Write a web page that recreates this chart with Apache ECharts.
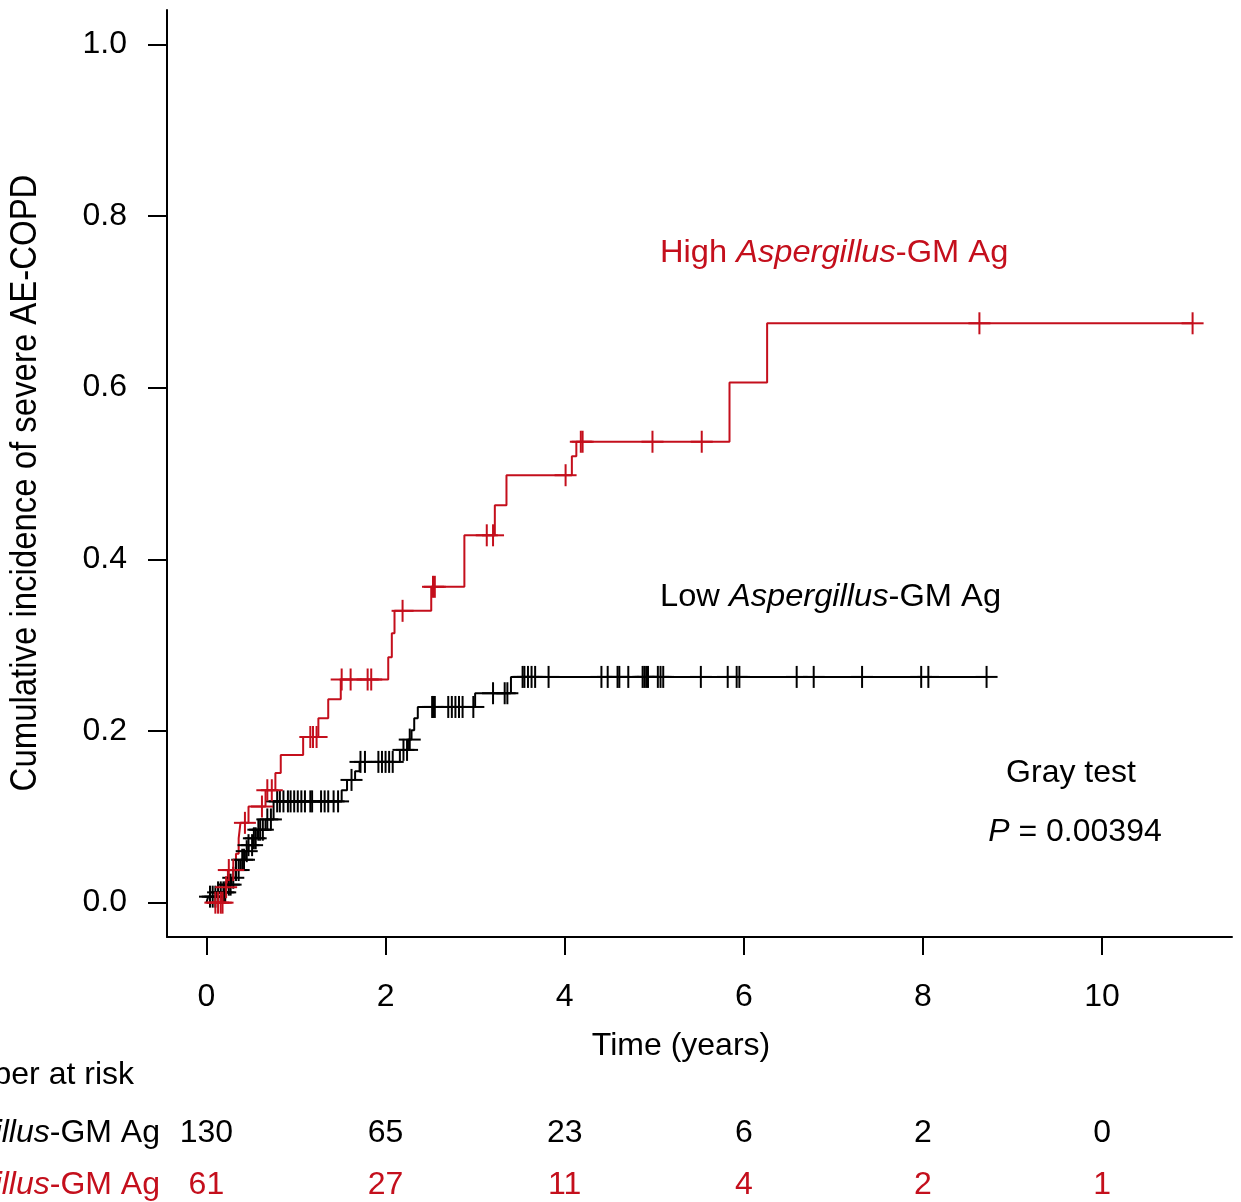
<!DOCTYPE html>
<html><head><meta charset="utf-8">
<script src="https://cdn.jsdelivr.net/npm/echarts@6/dist/echarts.min.js"></script>
<style>html,body{margin:0;padding:0;background:#fff}#c{width:1241px;height:1202px}</style>
</head><body><div id="c"></div>
<script>
// ---- data ----
const xTicks = [0, 2, 4, 6, 8, 10];
const yTicks = [0, 0.2, 0.4, 0.6, 0.8, 1.0];

// Low Aspergillus-GM Ag (black) step curve
const lowT = [0, 0.02, 0.12, 0.22, 0.28, 0.33, 0.38, 0.43, 0.47, 0.52, 0.57, 0.66, 0.75, 1.51, 1.57, 1.66, 1.71, 2.16, 2.25, 2.29, 2.32, 2.36, 3.0, 3.4, 8.71];
const lowV = [0, 0.007, 0.012, 0.021, 0.029, 0.038, 0.05, 0.06, 0.067, 0.075, 0.085, 0.097, 0.118, 0.131, 0.143, 0.153, 0.164, 0.178, 0.19, 0.201, 0.215, 0.228, 0.244, 0.263, 0.263];
const lowCensor = [0.04, 0.07, 0.1, 0.13, 0.16, 0.19, 0.21, 0.25, 0.27, 0.3, 0.33, 0.36, 0.4, 0.42, 0.45, 0.47, 0.51, 0.53, 0.55, 0.58, 0.6, 0.63, 0.68, 0.72, 0.79, 0.82, 0.86, 0.91, 0.94, 0.98, 1.02, 1.06, 1.1, 1.16, 1.18, 1.28, 1.32, 1.36, 1.42, 1.47, 1.62, 1.72, 1.77, 1.92, 1.96, 2.0, 2.04, 2.08, 2.2, 2.24, 2.27, 2.52, 2.53, 2.55, 2.7, 2.74, 2.78, 2.82, 2.86, 2.98, 3.2, 3.33, 3.36, 3.53, 3.55, 3.59, 3.63, 3.67, 3.82, 4.41, 4.48, 4.59, 4.61, 4.71, 4.87, 4.89, 4.91, 4.93, 5.04, 5.07, 5.1, 5.52, 5.82, 5.92, 5.95, 6.59, 6.78, 7.32, 7.98, 8.06, 8.71];

// High Aspergillus-GM Ag (red) step curve
const highT = [0, 0.2, 0.24, 0.33, 0.36, 0.38, 0.47, 0.66, 0.77, 0.83, 1.08, 1.25, 1.36, 1.5, 2.03, 2.07, 2.1, 2.51, 2.88, 3.22, 3.35, 4.08, 4.13, 5.84, 6.26, 11.01];
const highV = [0, 0.018, 0.038, 0.057, 0.075, 0.093, 0.112, 0.131, 0.151, 0.172, 0.193, 0.215, 0.237, 0.26, 0.286, 0.314, 0.34, 0.368, 0.428, 0.463, 0.498, 0.52, 0.537, 0.606, 0.675, 0.675];
const highCensor = [0.1, 0.13, 0.16, 0.18, 0.22, 0.25, 0.3, 0.43, 0.62, 0.68, 0.73, 1.16, 1.19, 1.23, 1.51, 1.61, 1.8, 1.84, 2.19, 2.53, 2.55, 3.13, 3.2, 4.01, 4.18, 4.2, 4.98, 5.53, 8.63, 11.01];

// Number at risk
const riskTimes = [0, 2, 4, 6, 8, 10];
const lowRisk = [130, 65, 23, 6, 2, 0];
const highRisk = [61, 27, 11, 4, 2, 1];

// ---- chart ----
const RED = '#c40f1c';
const F = 'Liberation Sans, Arial, Helvetica, sans-serif';
const FS = 32;

function stepAt(T, V, t) { let v = V[0]; for (let i = 0; i < T.length; i++) { if (T[i] <= t) v = V[i]; } return v; }
function pairs(T, V) { return T.map((t, i) => [t, V[i]]); }
function censorSeries(times, T, V, color) {
  return {
    type: 'custom', clip: false, z: 3, silent: true,
    encode: { x: 0, y: 1 },
    data: times.map(t => [t, stepAt(T, V, t)]),
    renderItem(params, api) {
      const p = api.coord([api.value(0), api.value(1)]);
      const h = 11;
      return { type: 'group', children: [
        { type: 'line', shape: { x1: p[0], y1: p[1] - h, x2: p[0], y2: p[1] + h }, style: { stroke: color, lineWidth: 2 } },
        { type: 'line', shape: { x1: p[0] - h, y1: p[1], x2: p[0] + h, y2: p[1] }, style: { stroke: color, lineWidth: 2 } }
      ] };
    }
  };
}

const chart = echarts.init(document.getElementById('c'), null, { renderer: 'canvas' });
chart.setOption({
  animation: false,
  backgroundColor: '#fff',
  grid: { left: 167, right: 9, top: 10, bottom: 265, containLabel: false, outerBoundsMode: 'none' },
  xAxis: {
    type: 'value', min: -0.44, max: 11.45,
    splitLine: { show: false },
    axisLine: { show: true, onZero: false, lineStyle: { color: '#000', width: 2 } },
    axisTick: { show: true, customValues: xTicks, length: 18, lineStyle: { color: '#000', width: 2 } },
    axisLabel: { show: true, customValues: xTicks, margin: 44, fontSize: FS, fontFamily: F, color: '#000', formatter: v => String(v) }
  },
  yAxis: {
    type: 'value', min: -0.04, max: 1.04,
    splitLine: { show: false },
    axisLine: { show: true, onZero: false, lineStyle: { color: '#000', width: 2 } },
    axisTick: { show: true, customValues: yTicks, length: 19, lineStyle: { color: '#000', width: 2 } },
    axisLabel: { show: true, customValues: yTicks, margin: 40, fontSize: FS, fontFamily: F, color: '#000', formatter: v => v.toFixed(1) }
  },
  series: [
    { type: 'line', step: 'end', data: pairs(lowT, lowV), showSymbol: false, symbol: 'none', lineStyle: { color: '#000', width: 2 }, z: 2 },
    { type: 'line', step: 'end', data: pairs(highT, highV), showSymbol: false, symbol: 'none', lineStyle: { color: RED, width: 2 }, z: 2 },
    censorSeries(lowCensor, lowT, lowV, '#000'),
    censorSeries(highCensor, highT, highV, RED)
  ]
});

function rich(color) {
  return {
    n: { fontSize: FS, fontFamily: F, fill: color },
    i: { fontSize: FS, fontFamily: F, fill: color, fontStyle: 'italic' }
  };
}
const graphics = [
  { type: 'text', x: 26, y: 483, rotation: Math.PI / 2, scaleX: 0.89,
    style: { text: 'Cumulative incidence of severe AE-COPD', fontSize: 37, fontFamily: F, fill: '#000', align: 'center', verticalAlign: 'middle' } },
  { type: 'text', x: 681, y: 1046,
    style: { text: 'Time (years)', fontSize: FS, fontFamily: F, fill: '#000', align: 'center', verticalAlign: 'middle' } },
  { type: 'text', x: 660, y: 253, scaleX: 1.02,
    style: { text: '{n|High }{i|Aspergillus}{n|-GM Ag}', rich: rich(RED), align: 'left', verticalAlign: 'middle' } },
  { type: 'text', x: 660, y: 597, scaleX: 1.02,
    style: { text: '{n|Low }{i|Aspergillus}{n|-GM Ag}', rich: rich('#000'), align: 'left', verticalAlign: 'middle' } },
  { type: 'text', x: 1071, y: 773,
    style: { text: 'Gray test', fontSize: FS, fontFamily: F, fill: '#000', align: 'center', verticalAlign: 'middle' } },
  { type: 'text', x: 1075, y: 832,
    style: { text: '{i|P}{n| = 0.00394}', rich: rich('#000'), align: 'center', verticalAlign: 'middle' } },
  { type: 'text', x: 134, y: 1075,
    style: { text: 'Number at risk', fontSize: FS, fontFamily: F, fill: '#000', align: 'right', verticalAlign: 'middle' } },
  { type: 'text', x: 160, y: 1133,
    style: { text: '{n|Low }{i|Aspergillus}{n|-GM Ag}', rich: rich('#000'), align: 'right', verticalAlign: 'middle' } },
  { type: 'text', x: 160, y: 1185,
    style: { text: '{n|High }{i|Aspergillus}{n|-GM Ag}', rich: rich(RED), align: 'right', verticalAlign: 'middle' } }
];
riskTimes.forEach((t, k) => {
  const px = chart.convertToPixel({ xAxisIndex: 0 }, t);
  graphics.push({ type: 'text', x: px, y: 1133,
    style: { text: String(lowRisk[k]), fontSize: FS, fontFamily: F, fill: '#000', align: 'center', verticalAlign: 'middle' } });
  graphics.push({ type: 'text', x: px, y: 1185,
    style: { text: String(highRisk[k]), fontSize: FS, fontFamily: F, fill: RED, align: 'center', verticalAlign: 'middle' } });
});
chart.setOption({ graphic: graphics });
</script>
</body></html>
